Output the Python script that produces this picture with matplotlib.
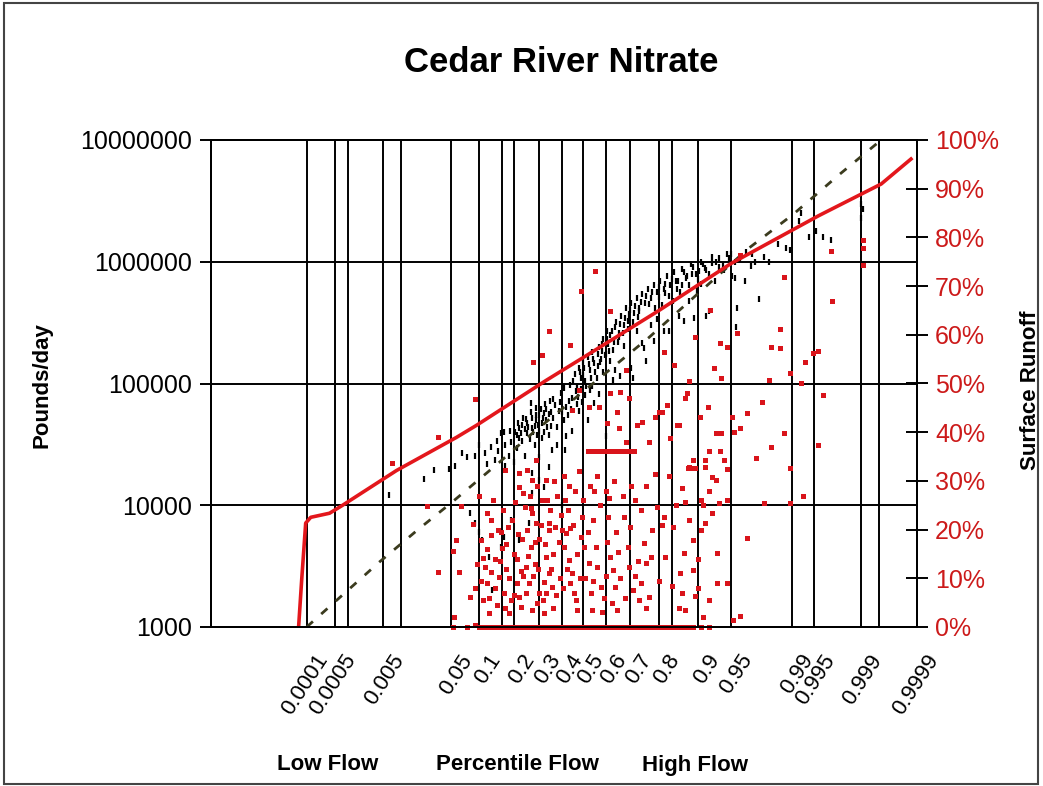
import numpy as np
import matplotlib
matplotlib.use('Agg')
import matplotlib.pyplot as plt
from matplotlib.ticker import FixedLocator, FixedFormatter, NullFormatter, NullLocator
from matplotlib.patches import Rectangle
from matplotlib.transforms import ScaledTranslation
from statistics import NormalDist

plt.rcParams['font.family'] = ['Liberation Sans', 'DejaVu Sans']

# percentile grid lines (labelled ones and the extra unlabelled ones)
label_pcts = [0.0001, 0.0005, 0.005, 0.05, 0.1, 0.2, 0.3, 0.4, 0.5, 0.6, 0.7,
              0.8, 0.9, 0.95, 0.99, 0.995, 0.999, 0.9999]
label_text = ['0.0001', '0.0005', '0.005', '0.05', '0.1', '0.2', '0.3', '0.4', '0.5',
              '0.6', '0.7', '0.8', '0.9', '0.95', '0.99', '0.995', '0.999', '0.9999']
extra_pcts = [0.001, 0.01, 0.16, 0.84, 0.9995]

load_ticks = [1000, 10000, 100000, 1000000, 10000000]
runoff_ticks = [0, 10, 20, 30, 40, 50, 60, 70, 80, 90, 100]

# red curve (pounds/day)
curve_p = [0.00006, 0.000073, 0.000094, 0.000128, 0.00038, 0.00076, 0.0084, 0.057,
           0.094, 0.329, 0.5, 0.80, 0.95, 0.9956, 0.99955, 0.99987]
curve_v = [1000, 2430, 7140, 7960, 8600, 10000, 19300, 36000,
           45300, 106000, 163000, 396000, 964000, 2380000, 4350000, 6980000]

# dashed olive curve (pounds/day)
dash_p = [0.0001, 0.0008, 0.0042, 0.0177, 0.051, 0.153, 0.27, 0.768, 0.895,
          0.967, 0.9905, 0.9978, 0.99955]
dash_v = [1000, 1865, 3410, 6240, 10600, 22500, 38900, 238000, 526000,
          1280000, 2470000, 5160000, 10000000]

# measured loads, black dots (pounds/day)
load_p = [0.0062, 0.022, 0.030, 0.047, 0.055, 0.066, 0.075, 0.090, 0.080, 0.090,
          0.100, 0.106, 0.125, 0.133, 0.158, 0.166, 0.190, 0.220, 0.257, 0.270,
          0.300, 0.320, 0.340, 0.355, 0.270, 0.300, 0.100, 0.115, 0.130, 0.158,
          0.166, 0.187, 0.219, 0.250, 0.270, 0.300, 0.330, 0.340, 0.286, 0.265,
          0.140, 0.147, 0.172, 0.184, 0.200, 0.210, 0.230, 0.240, 0.245, 0.280,
          0.286, 0.310, 0.320, 0.350, 0.360, 0.377, 0.387, 0.396, 0.410, 0.420,
          0.415, 0.400, 0.434, 0.450, 0.465, 0.480, 0.490, 0.510, 0.520, 0.540,
          0.550, 0.565, 0.571, 0.584, 0.590, 0.600, 0.605, 0.620, 0.630, 0.640,
          0.655, 0.660, 0.675, 0.690, 0.695, 0.705, 0.712, 0.725, 0.733, 0.745,
          0.750, 0.757, 0.768, 0.777, 0.784, 0.795, 0.801, 0.810, 0.815, 0.820,
          0.830, 0.838, 0.843, 0.852, 0.857, 0.865, 0.869, 0.876, 0.881, 0.887,
          0.891, 0.897, 0.901, 0.906, 0.913, 0.915, 0.919, 0.924, 0.929, 0.935,
          0.942, 0.948, 0.951, 0.955, 0.957, 0.956, 0.964, 0.969, 0.972, 0.975,
          0.978, 0.981, 0.985, 0.988, 0.9895, 0.9918, 0.9925, 0.994, 0.9953, 0.9962,
          0.9971, 0.999, 0.999, 0.9991,
          0.36, 0.37, 0.38, 0.39, 0.40, 0.41, 0.42, 0.43, 0.44, 0.45,
          0.46, 0.47, 0.48, 0.49, 0.50, 0.50, 0.51, 0.52, 0.53, 0.53,
          0.54, 0.55, 0.56, 0.57, 0.58, 0.59, 0.60, 0.61, 0.62, 0.63,
          0.64, 0.65, 0.66, 0.67, 0.68, 0.69, 0.70, 0.71, 0.72, 0.73,
          0.74, 0.76, 0.78, 0.79, 0.80, 0.82, 0.83, 0.85, 0.86, 0.87,
          0.88, 0.89, 0.90, 0.91, 0.92, 0.93, 0.94, 0.95, 0.96, 0.965, 0.97,
          0.22, 0.23, 0.24, 0.25, 0.26, 0.27, 0.28, 0.29, 0.30, 0.31,
          0.32, 0.33, 0.34, 0.35, 0.12, 0.15, 0.17, 0.19, 0.21,
          0.445, 0.455, 0.47, 0.475, 0.485, 0.495, 0.505, 0.515, 0.525, 0.535,
          0.545, 0.555, 0.565, 0.575, 0.585, 0.595, 0.605, 0.615, 0.625, 0.635,
          0.645, 0.655, 0.665, 0.675, 0.685, 0.695, 0.705, 0.715, 0.725, 0.735,
          0.745, 0.755, 0.765, 0.775, 0.785, 0.795, 0.805, 0.815, 0.825, 0.835,
          0.845, 0.855, 0.865, 0.875, 0.885, 0.895, 0.905, 0.915, 0.925, 0.935,
          0.945, 0.955,
          0.205, 0.215, 0.225, 0.235, 0.255, 0.265, 0.275, 0.285, 0.295, 0.305,
          0.315, 0.325, 0.335, 0.345]
load_v = [12200, 16300, 19300, 19800, 21000, 27000, 24700, 25600, 8600, 7100,
          6000, 5200, 3750, 2000, 4500, 5500, 7500, 5200, 7100, 18300,
          16000, 14000, 20500, 28200, 12500, 24800, 31000, 27000, 30000, 39000,
          40000, 41000, 43000, 39500, 43500, 41000, 49700, 56000, 63000, 69000,
          23400, 34000, 31000, 25600, 22500, 29500, 34000, 25600, 51000, 31000,
          49700, 36000, 57600, 45000, 75000, 31000, 60000, 84000, 49700, 37000,
          28200, 10000, 72500, 41000, 87500, 60000, 110000, 80000, 49700, 96000,
          69000, 140000, 82000, 186000, 124000, 37000, 272000, 154000, 106000, 128000,
          240000, 116000, 205000, 328000, 370000, 133000, 110000, 272000, 397000, 215000,
          196000, 154000, 450000, 300000, 225000, 340000, 510000, 440000, 272000, 550000,
          272000, 720000, 479000, 600000, 360000, 640000, 328000, 770000, 479000, 800000,
          345000, 578000, 844000, 660000, 890000, 360000, 397000, 980000, 700000, 1070000,
          860000, 1070000, 760000, 740000, 420000, 290000, 700000, 920000, 1000000, 490000,
          1100000, 990000, 1400000, 1300000, 1250000, 2150000, 2500000, 1600000, 1800000, 1600000,
          1500000, 3000000, 2300000, 2700000,
          52000, 66000, 44000, 70000, 58000, 92000, 64000, 55000, 98000, 76000,
          120000, 68000, 135000, 90000, 150000, 118000, 104000, 165000, 128000, 88000,
          180000, 146000, 112000, 200000, 160000, 230000, 176000, 210000, 250000, 190000,
          290000, 220000, 310000, 260000, 345000, 280000, 400000, 320000, 430000, 350000,
          470000, 520000, 560000, 420000, 620000, 660000, 520000, 700000, 560000, 820000,
          650000, 900000, 720000, 950000, 800000, 1000000, 940000, 1150000, 1050000, 1200000, 1150000,
          36000, 46000, 42000, 47000, 35000, 52000, 45000, 38000, 55000, 47000,
          40000, 62000, 38000, 58000, 22000, 28000, 21000, 33000, 38000,
          62000, 105000, 95000, 78000, 125000, 70000, 135000, 95000, 145000, 110000,
          160000, 125000, 175000, 150000, 210000, 170000, 230000, 185000, 270000, 220000,
          320000, 260000, 360000, 300000, 420000, 330000, 460000, 380000, 500000, 420000,
          540000, 460000, 600000, 500000, 650000, 560000, 700000, 600000, 760000, 640000,
          820000, 700000, 880000, 740000, 950000, 800000, 1000000, 850000, 1100000, 900000,
          1150000, 1000000,
          40000, 47000, 39000, 52000, 44000, 58000, 40000, 55000, 46000, 62000,
          52000, 68000, 44000, 72000]

# surface runoff, red squares (%)
runoff_p = [0.555, 0.49, 0.62, 0.342, 0.44, 0.31, 0.273, 0.683, 0.893, 0.921,
            0.937, 0.946, 0.960, 0.957, 0.927, 0.938, 0.816, 0.845, 0.881, 0.982,
            0.986, 0.986, 0.9875, 0.9895, 0.9932, 0.9955, 0.9947, 0.981, 0.9925, 0.9971,
            0.9972, 0.9991, 0.9991, 0.9991,
            0.09, 0.034, 0.007, 0.024, 0.064, 0.057, 0.053, 0.034, 0.062, 0.09,
            0.054, 0.09, 0.087, 0.104, 0.115, 0.13, 0.153, 0.166, 0.21, 0.219,
            0.245, 0.265, 0.286, 0.32, 0.33, 0.342, 0.118, 0.13, 0.13, 0.158,
            0.16, 0.109, 0.08, 0.109, 0.125, 0.184, 0.19, 0.226, 0.257, 0.27,
            0.30, 0.32, 0.219, 0.17, 0.25, 0.286, 0.219, 0.27, 0.33, 0.24,
            0.27, 0.335, 0.33, 0.355,
            0.62, 0.66, 0.695, 0.873, 0.876, 0.825, 0.81, 0.852, 0.918, 0.903,
            0.951, 0.954, 0.96, 0.966, 0.977, 0.9962, 0.9875, 0.982, 0.973, 0.9895,
            0.9955, 0.9928, 0.966, 0.953, 0.96, 0.978, 0.9895,
            0.45, 0.48, 0.527, 0.571, 0.647, 0.605, 0.655, 0.683, 0.725, 0.745,
            0.768, 0.79, 0.80, 0.835, 0.857, 0.89, 0.913, 0.919, 0.930, 0.938,
            0.937, 0.946, 0.930, 0.924, 0.913, 0.881, 0.942, 0.946, 0.935, 0.905,
            0.873, 0.795,
            0.342, 0.37, 0.40, 0.42, 0.44, 0.41, 0.434, 0.45, 0.457, 0.465,
            0.44, 0.49, 0.504, 0.52, 0.527, 0.536, 0.54, 0.557, 0.563, 0.58,
            0.593, 0.605, 0.62, 0.63, 0.64, 0.647, 0.675, 0.69, 0.695, 0.712,
            0.733, 0.75, 0.757, 0.74, 0.768, 0.777, 0.82, 0.81, 0.815, 0.843,
            0.865, 0.857, 0.873, 0.869, 0.89, 0.893, 0.919, 0.89, 0.905, 0.913,
            0.924, 0.932, 0.946, 0.932,
            0.52, 0.535, 0.55, 0.565, 0.58, 0.595, 0.61, 0.625, 0.64, 0.655,
            0.67, 0.685, 0.70, 0.715, 0.878, 0.886, 0.894,
            0.053, 0.075, 0.10, 0.11, 0.13, 0.15, 0.17, 0.19, 0.21, 0.23,
            0.25, 0.27, 0.29, 0.31, 0.33, 0.35, 0.37, 0.39, 0.41, 0.43,
            0.45, 0.47, 0.49, 0.51, 0.53, 0.55, 0.57, 0.59, 0.61, 0.63,
            0.65, 0.67, 0.69, 0.71, 0.73, 0.75, 0.77, 0.79, 0.81, 0.83,
            0.85, 0.87, 0.89, 0.905, 0.92,
            0.12, 0.14, 0.16, 0.18, 0.20, 0.22, 0.24, 0.26, 0.28, 0.30,
            0.32, 0.34, 0.36, 0.38, 0.40, 0.42, 0.44, 0.46, 0.48, 0.50,
            0.52, 0.54, 0.56, 0.58, 0.60, 0.62, 0.64, 0.66, 0.68, 0.70,
            0.72, 0.74, 0.76, 0.78, 0.80, 0.82, 0.84, 0.86, 0.88,
            0.095, 0.12, 0.14, 0.145, 0.175, 0.18, 0.2, 0.205, 0.23, 0.235,
            0.26, 0.28, 0.29, 0.3, 0.31, 0.35, 0.36, 0.38, 0.39, 0.41,
            0.43, 0.46, 0.47, 0.48, 0.5, 0.51, 0.53, 0.545, 0.56, 0.575,
            0.585, 0.6, 0.61, 0.625, 0.635, 0.645, 0.66, 0.67, 0.7, 0.72,
            0.73, 0.76, 0.78, 0.8, 0.83, 0.85, 0.86, 0.88, 0.9, 0.91, 0.92,
            0.10, 0.105, 0.12, 0.125, 0.135, 0.14, 0.15, 0.155, 0.165, 0.17,
            0.175, 0.185, 0.195, 0.2, 0.21, 0.215, 0.225, 0.235, 0.245, 0.25,
            0.255, 0.265, 0.275, 0.28, 0.29, 0.295, 0.305, 0.315, 0.325, 0.34,
            0.345, 0.36, 0.365, 0.375, 0.385, 0.395, 0.405, 0.415, 0.425, 0.435,
            0.455, 0.47, 0.485, 0.495, 0.545, 0.55, 0.6, 0.615, 0.65, 0.68,
            0.705, 0.72, 0.74, 0.76, 0.79, 0.84, 0.865, 0.9, 0.91]
runoff_v = [73.1, 69.0, 64.9, 60.8, 57.9, 55.9, 54.4, 52.8, 59.5, 65.1,
            58.3, 57.5, 76.4, 60.4, 53.2, 51.1, 56.5, 53.8, 50.5, 57.5,
            61.2, 57.3, 71.9, 52.2, 54.4, 56.7, 56.3, 50.7, 50.1, 77.2,
            66.9, 79.5, 77.8, 74.3,
            46.8, 39.0, 33.7, 24.8, 24.8, 17.9, 15.6, 11.3, 11.3, 8.0,
            2.0, 0.4, 21.1, 17.9, 12.3, 11.3, 10.3, 7.0, 9.0, 6.2,
            12.3, 16.4, 21.4, 9.2, 7.0, 21.4, 23.4, 22.0, 18.9, 19.5,
            16.2, 14.2, 6.2, 5.5, 2.9, 2.9, 5.5, 4.1, 9.0, 3.5,
            7.0, 2.9, 31.6, 32.2, 32.2, 34.3, 28.7, 30.2, 30.2, 24.6,
            23.4, 26.1, 14.4, 8.2,
            48.0, 48.3, 47.0, 47.0, 48.0, 45.6, 44.1, 41.5, 45.2, 43.1,
            43.1, 40.0, 40.9, 43.9, 46.2, 47.6, 39.8, 37.0, 34.7, 32.6,
            37.4, 26.9, 18.3, 1.4, 2.3, 25.5, 25.5,
            44.6, 48.7, 45.2, 45.2, 44.1, 41.9, 40.9, 38.0, 41.5, 42.1,
            38.0, 43.1, 44.1, 38.8, 41.5, 34.3, 34.3, 36.1, 39.8, 39.8,
            36.1, 32.4, 30.2, 30.8, 32.9, 32.9, 34.3, 26.1, 25.5, 26.1,
            25.7, 24.6,
            19.9, 20.5, 19.9, 19.3, 20.3, 16.4, 13.8, 11.1, 7.0, 5.5,
            9.0, 18.5, 16.4, 19.5, 13.1, 7.0, 3.5, 16.4, 12.3, 8.2,
            6.0, 17.5, 14.4, 11.7, 8.2, 3.5, 22.6, 16.4, 12.3, 7.6,
            5.5, 17.2, 13.1, 9.0, 6.2, 14.4, 14.4, 20.9, 22.6, 20.5,
            7.0, 3.9, 3.5, 15.2, 11.7, 6.4, 5.5, 17.9, 19.9, 21.4,
            23.4, 15.2, 9.0, 9.0,
            36.1, 36.1, 36.1, 36.1, 36.1, 36.1, 36.1, 36.1, 36.1, 36.1,
            36.1, 36.1, 36.1, 36.1, 32.6, 32.6, 32.6,
            0, 0, 0, 0, 0, 0, 0, 0, 0, 0,
            0, 0, 0, 0, 0, 0, 0, 0, 0, 0,
            0, 0, 0, 0, 0, 0, 0, 0, 0, 0,
            0, 0, 0, 0, 0, 0, 0, 0, 0, 0,
            0, 0, 0, 0, 0,
            0, 0, 0, 0, 0, 0, 0, 0, 0, 0,
            0, 0, 0, 0, 0, 0, 0, 0, 0, 0,
            0, 0, 0, 0, 0, 0, 0, 0, 0, 0,
            0, 0, 0, 0, 0, 0, 0, 0, 0,
            13, 9, 14, 4.5, 12, 20.5, 15, 25.6, 18, 10.5,
            27, 13, 5, 18, 26, 12, 4, 27, 10, 31,
            24, 28, 15, 32, 26, 10, 29, 22, 31, 25,
            3, 28, 22.5, 5, 30, 19.5, 10, 27, 20.5, 26,
            13.5, 29, 20, 9.5, 31, 25, 11, 22, 14, 2, 28,
            27, 9.5, 16, 6, 26, 8, 20, 13.5, 24, 3.8,
            17, 10, 22, 6.5, 14, 19, 11.5, 27.5, 7, 20,
            14.5, 24.5, 10.5, 17.5, 29, 12, 21, 5.5, 17, 11,
            24, 15, 30, 6.5, 17.5, 23, 8, 26, 12, 29,
            21, 3.5, 10, 22.5, 9.5, 28, 10.5, 26.5, 15.5, 6,
            29, 10.5, 24, 4, 31.5, 8.5, 28.5, 8, 25]

nd = NormalDist()
ppf = np.vectorize(nd.inv_cdf, otypes=[float])
cdf = np.vectorize(nd.cdf, otypes=[float])


# normal probability axis; the low flow half of the sheet is a bit squeezed
def to_axis(p):
    p = np.clip(np.asarray(p, dtype=float), 1e-12, 1 - 1e-12)
    z = ppf(p)
    return np.where(z < 0, 0.9422 * z + 0.03089 * z ** 2, z)


def from_axis(u):
    u = np.asarray(u, dtype=float)
    zl = (-0.9422 + np.sqrt(np.maximum(0.9422 ** 2 + 4 * 0.03089 * u, 0))) / (2 * 0.03089)
    return cdf(np.where(u < 0, zl, u))


fig = plt.figure(figsize=(10.43, 7.86), dpi=100)
ax = fig.add_axes([211 / 1043, 159 / 786, 706 / 1043, 487 / 786])
ax.set_xscale('function', functions=(to_axis, from_axis))
ax.set_yscale('log')

ax.plot(load_p, load_v, linestyle='none', marker='|', ms=5, mew=1.6, color='black', zorder=3)
ax.plot(dash_p, dash_v, color='#3b3b1e', lw=2, ls=(0, (3, 4)), zorder=4)
ax.plot(curve_p, curve_v, color='#e3171c', lw=2.6, zorder=5)

ax.set_xlim(5e-8, 0.9999)
ax.set_ylim(1000, 10000000)

ax.xaxis.set_major_locator(FixedLocator(label_pcts))
ax.xaxis.set_minor_locator(FixedLocator(extra_pcts))
ax.xaxis.set_major_formatter(FixedFormatter(label_text))
ax.xaxis.set_minor_formatter(NullFormatter())
ax.grid(True, which='both', axis='x', color='black', lw=1.4)
ax.grid(True, which='major', axis='y', color='black', lw=1.4)
ax.set_axisbelow(True)
ax.tick_params(axis='x', which='both', length=0, pad=17, labelsize=16)

ax.yaxis.set_major_locator(FixedLocator(load_ticks))
ax.yaxis.set_major_formatter(FixedFormatter([str(t) for t in load_ticks]))
ax.yaxis.set_minor_locator(NullLocator())
ax.tick_params(axis='y', length=8, width=1.4, labelsize=18, pad=6)

for lab in ax.get_xticklabels():
    lab.set_rotation(57)
    lab.set_ha('right')
    lab.set_va('top')
    lab.set_rotation_mode('anchor')
    lab.set_transform(lab.get_transform() + ScaledTranslation(0.08, 0, fig.dpi_scale_trans))

ax2 = ax.twinx()
ax2.plot(runoff_p, runoff_v, linestyle='none', marker='s', ms=3.6, mew=0, color='#d9141b',
         clip_on=False)
ax2.set_ylim(0, 100)
ax2.yaxis.set_major_locator(FixedLocator(runoff_ticks))
ax2.yaxis.set_major_formatter(FixedFormatter([f'{t}%' for t in runoff_ticks]))
ax2.tick_params(axis='y', direction='inout', length=16, width=1.4, labelsize=18,
                labelcolor='#cc1a1a', pad=5)

for a in (ax, ax2):
    for s in a.spines.values():
        s.set_linewidth(1.4)
        s.set_color('black')

fig.text(561 / 1043, 1 - 62 / 786, 'Cedar River Nitrate', ha='center', va='center',
         fontsize=25, fontweight='bold')
fig.text(42 / 1043, 1 - 385 / 786, 'Pounds/day', rotation=90, ha='center', va='center',
         fontsize=16, fontweight='bold')
fig.text(1031 / 1043, 1 - 390 / 786, 'Surface Runoff', rotation=90, ha='center', va='center',
         fontsize=16, fontweight='bold')
fig.text(328 / 1043, 1 - 765 / 786, 'Low Flow', ha='center', va='center', fontsize=16, fontweight='bold')
fig.text(517 / 1043, 1 - 765 / 786, 'Percentile Flow', ha='center', va='center', fontsize=16, fontweight='bold')
fig.text(695 / 1043, 1 - 765 / 786, 'High Flow', ha='center', va='center', fontsize=16, fontweight='bold')

fig.patches.append(Rectangle((4 / 1043, 2 / 786), 1034 / 1043, 781 / 786, transform=fig.transFigure,
                             fill=False, ec='#444444', lw=1.5))

fig.savefig('out.png', dpi=100)
